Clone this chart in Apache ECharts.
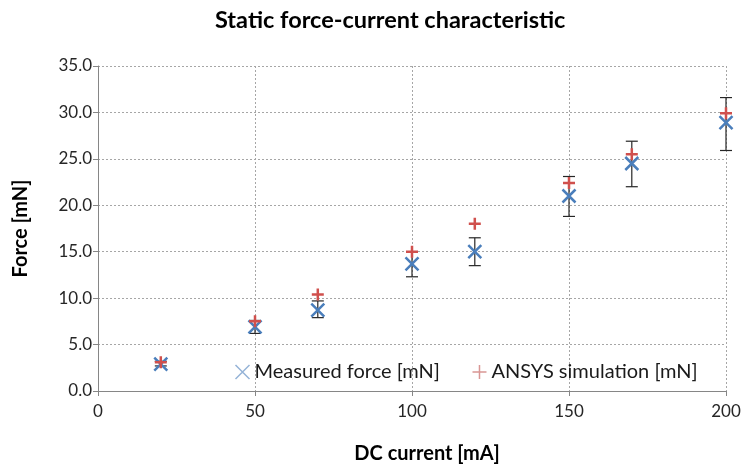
<!DOCTYPE html>
<html>
<head>
<meta charset="utf-8">
<script src="https://cdn.jsdelivr.net/npm/echarts@6/dist/echarts.min.js"></script>
<style>
  html, body { margin: 0; padding: 0; background: #fff; }
  #chart { width: 748px; height: 469px; }
</style>
</head>
<body>
<div id="chart"></div>
<script>
// values
var current = [20, 50, 70, 100, 120, 150, 170, 200];
var measured = [2.9, 6.9, 8.7, 13.7, 15.0, 21.0, 24.5, 28.9];
var ansys = [3.1, 7.5, 10.4, 15.0, 18.0, 22.4, 25.5, 29.9];
var errLow = [2.7, 6.2, 7.9, 12.3, 13.5, 18.8, 22.0, 25.9];
var errHigh = [3.2, 7.6, 9.7, 15.0, 16.5, 23.1, 26.9, 31.6];
var xTicks = [0, 50, 100, 150, 200];

var FONT = 'Lato';
var crossPath = 'path://M0,0 L10,10 M10,0 L0,10';
var plusPath = 'path://M5,0 L5,10 M0,5 L10,5';

var measuredData = [], ansysData = [], errData = [];
for (var i = 0; i < current.length; i++) {
    measuredData.push([current[i], measured[i]]);
    ansysData.push([current[i], ansys[i]]);
    errData.push([current[i], errLow[i], errHigh[i]]);
}

var myChart = echarts.init(document.getElementById('chart'));
var option = {
    backgroundColor: '#fff',
    textStyle: { fontFamily: FONT },
    title: {
        text: 'Static force-current characteristic',
        left: 210,
        top: 3,
        textStyle: { fontFamily: FONT, fontSize: 23.5, fontWeight: 'bold', color: '#000' }
    },
    legend: {
        left: 228,
        top: 357,
        itemGap: 30,
        itemWidth: 14,
        itemHeight: 14,
        textStyle: { fontFamily: FONT, fontSize: 20, color: '#1a1a1a' },
        data: [
            { name: 'Measured force [mN]', icon: crossPath, itemStyle: { color: 'none', borderColor: '#95B3D7', borderWidth: 1.5 } },
            { name: 'ANSYS simulation [mN]', icon: plusPath, itemStyle: { color: 'none', borderColor: '#D99694', borderWidth: 1.5 } }
        ]
    },
    grid: { left: 98, right: 22, top: 66, bottom: 77 },
    xAxis: {
        type: 'value',
        min: xTicks[0],
        max: xTicks[xTicks.length - 1],
        interval: 50,
        name: 'DC current [mA]',
        nameLocation: 'middle',
        nameGap: 53,
        nameTextStyle: { fontFamily: FONT, fontSize: 20, fontWeight: 'bold', color: '#000', padding: [0, 0, 0, 30] },
        axisLine: { show: true, lineStyle: { color: '#868686', width: 1 } },
        axisTick: { show: true, length: 5, lineStyle: { color: '#868686' } },
        axisLabel: { margin: 12, fontSize: 17, color: '#262626', fontFamily: FONT },
        splitLine: { show: true, lineStyle: { color: '#a6a6a6', type: [2, 2], width: 1 } }
    },
    yAxis: {
        type: 'value',
        min: 0,
        max: 35,
        interval: 5,
        name: 'Force [mN]',
        nameLocation: 'middle',
        nameGap: 67,
        nameTextStyle: { fontFamily: FONT, fontSize: 20, fontWeight: 'bold', color: '#000' },
        axisLine: { show: true, lineStyle: { color: '#868686', width: 1 } },
        axisTick: { show: true, length: 5, lineStyle: { color: '#868686' } },
        axisLabel: {
            margin: 6, fontSize: 17, color: '#262626', fontFamily: FONT,
            formatter: function (v) { return v.toFixed(1); }
        },
        splitLine: { show: true, lineStyle: { color: '#a6a6a6', type: [2, 2], width: 1 } }
    },
    series: [
        {
            name: 'error',
            type: 'custom',
            z: 2,
            silent: true,
            data: errData,
            encode: { x: 0, y: [1, 2] },
            renderItem: function (params, api) {
                var lo = api.coord([api.value(0), api.value(1)]);
                var hi = api.coord([api.value(0), api.value(2)]);
                var w = 6;
                var style = { stroke: '#262626', lineWidth: 1.2 };
                return {
                    type: 'group',
                    children: [
                        { type: 'line', shape: { x1: lo[0], y1: lo[1], x2: hi[0], y2: hi[1] }, style: style },
                        { type: 'line', shape: { x1: lo[0] - w, y1: lo[1], x2: lo[0] + w, y2: lo[1] }, style: style },
                        { type: 'line', shape: { x1: hi[0] - w, y1: hi[1], x2: hi[0] + w, y2: hi[1] }, style: style }
                    ]
                };
            }
        },
        {
            name: 'Measured force [mN]',
            type: 'scatter',
            z: 3,
            symbol: crossPath,
            symbolSize: 13,
            data: measuredData,
            itemStyle: { color: 'none', borderColor: '#4A7EBB', borderWidth: 2.5, opacity: 1 }
        },
        {
            name: 'ANSYS simulation [mN]',
            type: 'scatter',
            z: 4,
            symbol: plusPath,
            symbolSize: 12,
            data: ansysData,
            itemStyle: { color: 'none', borderColor: '#D0504D', borderWidth: 2.5, opacity: 1 }
        }
    ]
};
myChart.setOption(option);
</script>
</body>
</html>
